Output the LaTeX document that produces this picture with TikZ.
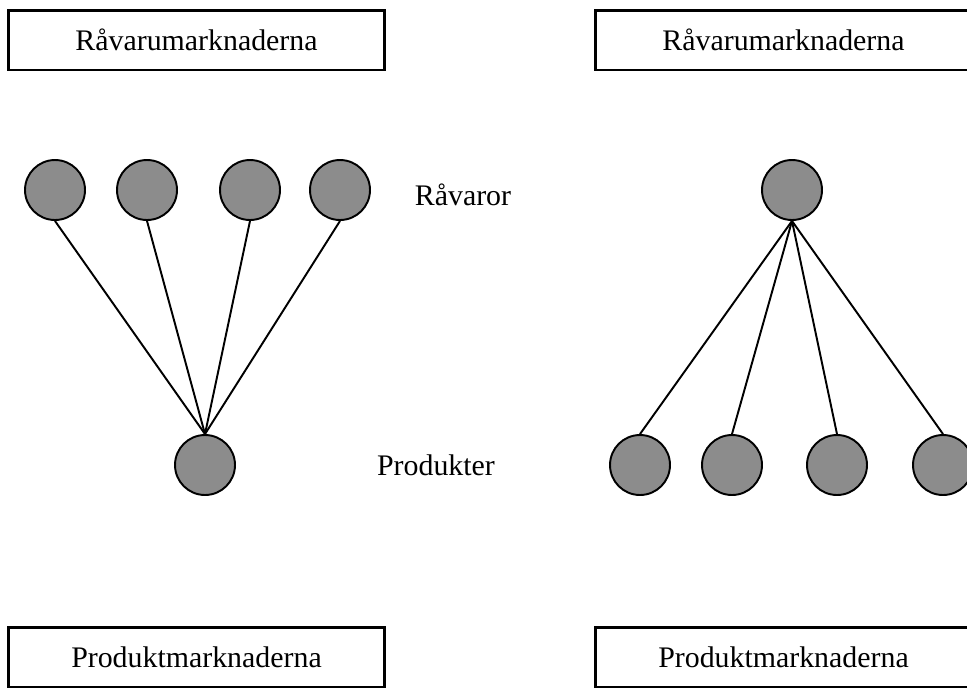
\documentclass[tikz,border=0pt]{standalone}
\usepackage{fontspec}
\setmainfont{Liberation Serif}
\usepackage{tikz}
\definecolor{nodegray}{gray}{0.55}

\begin{document}
\begin{tikzpicture}[x=0.02cm, y=-0.02cm,
    every node/.style={font=\fontsize{17}{20}\selectfont},
    good/.style={circle, draw, line width=1.1pt, fill=nodegray, minimum size=1.2cm, inner sep=0pt},
    market/.style={rectangle, draw, line width=1.7pt, minimum width=7.54cm, minimum height=1.2cm}]
            \useasboundingbox (0,0) rectangle (967,687);
            \clip (0,0) rectangle (967,687);

            % Markets
            \node[market] (rmL) at (196.5, 40) {Råvarumarknaderna};
            \node[market] (rmR) at (783.5, 40) {Råvarumarknaderna};
            \node[market] (pmL) at (196.5, 657) {Produktmarknaderna};
            \node[market] (pmR) at (783.5, 657) {Produktmarknaderna};

            % Labels
            \node (raw) at (463, 195) {Råvaror};
            \node (prod) at (436, 465) {Produkter};

            % Nodes, left
            \node[good] (r1) at (55, 190) {};
            \node[good] (r2) at (147, 190) {};
            \node[good] (r3) at (250, 190) {};
            \node[good] (r4) at (340, 190) {};
            \node[good] (p) at (205, 465) {};

            % Nodes, right
            \node[good] (r) at (792, 190) {};
            \node[good] (p1) at (640, 465) {};
            \node[good] (p2) at (732, 465) {};
            \node[good] (p3) at (837, 465) {};
            \node[good] (p4) at (943, 465) {};

            % Edges
            \draw[line width=1.1pt] (r1.south) -- (p.north);
            \draw[line width=1.1pt] (r2.south) -- (p.north);
            \draw[line width=1.1pt] (r3.south) -- (p.north);
            \draw[line width=1.1pt] (r4.south) -- (p.north);
            \draw[line width=1.1pt] (r.south) -- (p1.north);
            \draw[line width=1.1pt] (r.south) -- (p2.north);
            \draw[line width=1.1pt] (r.south) -- (p3.north);
            \draw[line width=1.1pt] (r.south) -- (p4.north);
        \end{tikzpicture}
\end{document}
